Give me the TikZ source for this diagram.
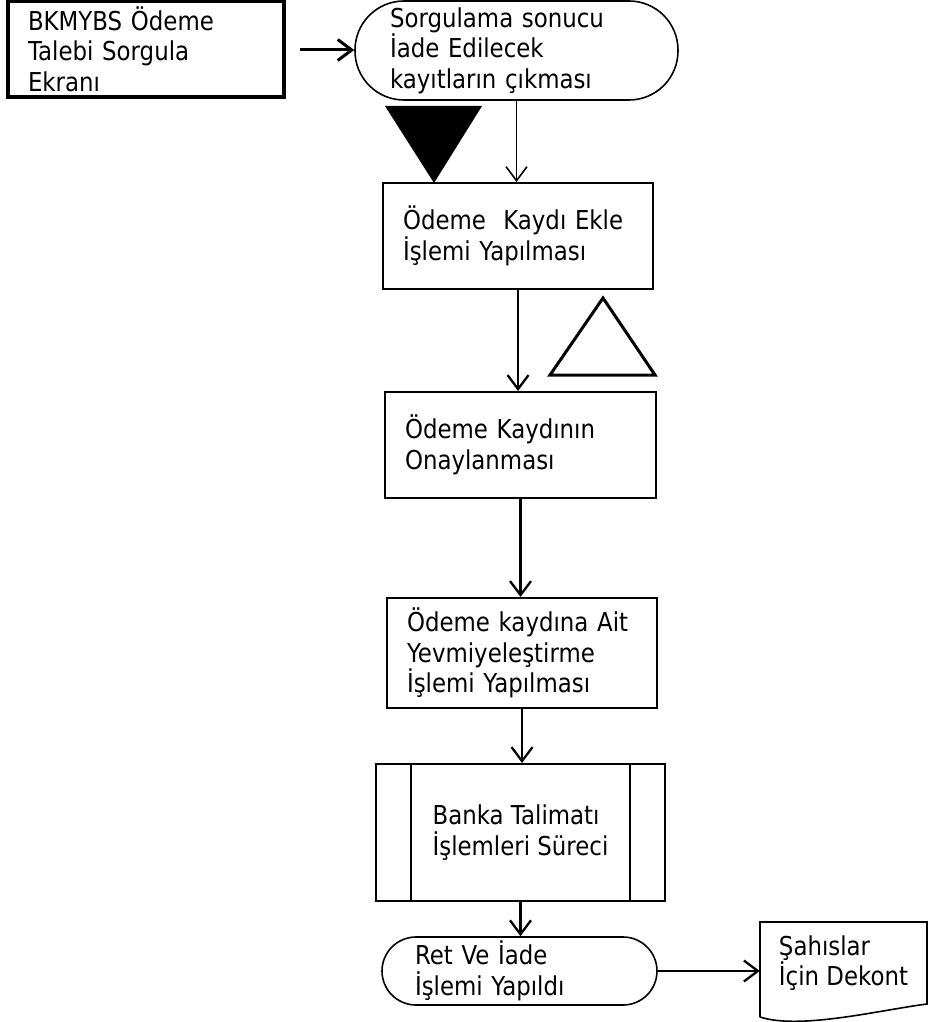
\documentclass[tikz,border=0pt]{standalone}
\usepackage{fontspec}
\setmainfont{DejaVu Sans}[FakeStretch=0.88]
\usetikzlibrary{arrows.meta}
\begin{document}
\begin{tikzpicture}[x=1pt,y=-1pt,
  every node/.style={font=\fontsize{26}{30.5}\selectfont, inner ysep=0pt, inner xsep=0pt},
  box/.style={draw, rectangle, line width=2pt, align=left},
  term/.style={draw, rectangle, line width=1.6pt, align=left},
  arr/.style={line width=2.3pt, -{Straight Barb[length=14pt,width=21pt]}}
]
\useasboundingbox[fill=white] (0,0) rectangle (928,1022);

% nodes
\node[box, line width=3.5pt, minimum width=276, minimum height=96, text width=236] (b1) at (146,49)
  {BKMYBS Ödeme\\Talebi Sorgula\\Ekranı};
\node[term, rounded corners=49pt, minimum width=323, minimum height=99, text width=253] (s1) at (516.5,50.5)
  {Sorgulama sonucu\\İade Edilecek\\kayıtların çıkması};
\node[box, minimum width=270, minimum height=106, text width=230] (b2) at (518,236)
  {Ödeme\ \ Kaydı Ekle\\İşlemi Yapılması};
\node[box, minimum width=271, minimum height=106, text width=231] (b3) at (520.5,445)
  {Ödeme Kaydının\\Onaylanması};
\node[box, minimum width=270, minimum height=110, text width=230] (b4) at (522,653)
  {Ödeme kaydına Ait\\Yevmiyeleştirme\\İşlemi Yapılması};
\node[box, minimum width=289, minimum height=137] (b5) at (520.5,832.5)
  {Banka Talimatı\\İşlemleri Süreci};
\node[term, rounded corners=34pt, minimum width=275, minimum height=68, text width=209] (s2) at (519.5,971)
  {Ret Ve İade\\İşlemi Yapıldı};
\node[align=left, minimum width=167, minimum height=80] (doc) at (843.5,963)
  {Şahıslar\\İçin Dekont};

% predefined process side bars
\draw[line width=2pt] ([xshift=36pt]b5.north west) -- ([xshift=36pt]b5.south west);
\draw[line width=2pt] ([xshift=-36pt]b5.north east) -- ([xshift=-36pt]b5.south east);

% document outline
\draw[line width=1.6pt] (760,1017) -- (760,922) -- (927,922) -- (927,1004)
  .. controls (880,1010) and (800,1030) .. (760,1017);

% triangles
\fill (385,106) -- (482,106) -- (434,183) -- cycle;
\draw[line width=3pt, line join=miter] (550,375) -- (603,298) -- (655,375) -- cycle;

% connectors
\coordinate (a1) at (300,50);
\draw[arr, line width=3pt] (a1) -- (a1 -| s1.west);
\draw[arr, line width=1.6pt] (s1.south) -- (s1.south |- b2.north);
\draw[arr] (b2.south) -- (b2.south |- b3.north);
\draw[arr] (b3.south) -- (b3.south |- b4.north);
\draw[arr] (b4.south) -- (b4.south |- b5.north);
\draw[arr] (b5.south) -- (b5.south |- s2.north);
\draw[arr] (s2.east) -- (s2.east -| doc.west);
\end{tikzpicture}
\end{document}
